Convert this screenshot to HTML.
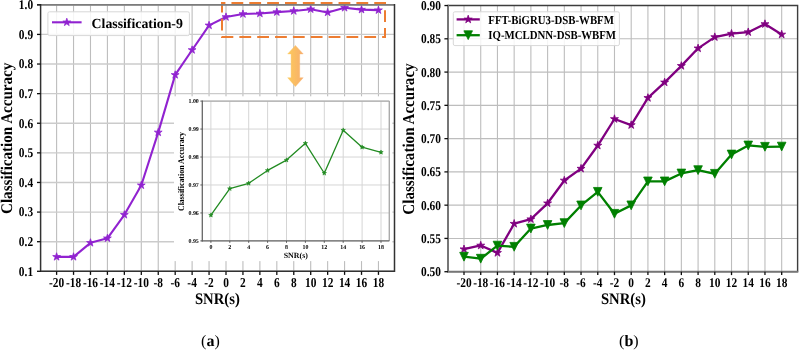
<!DOCTYPE html>
<html><head><meta charset="utf-8"><style>
html,body{margin:0;padding:0;background:#fff;}
body{width:799px;height:350px;overflow:hidden;}
svg{display:block;}
text{font-family:"Liberation Serif",serif;text-rendering:geometricPrecision;}
</style></head><body>
<div style="will-change:transform;width:799px;height:350px"><svg width="799" height="350" viewBox="0 0 799 350">
<defs><filter id="soft" filterUnits="userSpaceOnUse" x="0" y="0" width="799" height="350"><feGaussianBlur stdDeviation="0.35"/></filter></defs>
<rect width="799" height="350" fill="#fff"/>
<g filter="url(#soft)">
<line x1="56.60" y1="4.8" x2="56.60" y2="271.3" stroke="#bdbdbd" stroke-width="1.1"/>
<line x1="73.54" y1="4.8" x2="73.54" y2="271.3" stroke="#bdbdbd" stroke-width="1.1"/>
<line x1="90.48" y1="4.8" x2="90.48" y2="271.3" stroke="#bdbdbd" stroke-width="1.1"/>
<line x1="107.42" y1="4.8" x2="107.42" y2="271.3" stroke="#bdbdbd" stroke-width="1.1"/>
<line x1="124.36" y1="4.8" x2="124.36" y2="271.3" stroke="#bdbdbd" stroke-width="1.1"/>
<line x1="141.30" y1="4.8" x2="141.30" y2="271.3" stroke="#bdbdbd" stroke-width="1.1"/>
<line x1="158.24" y1="4.8" x2="158.24" y2="271.3" stroke="#bdbdbd" stroke-width="1.1"/>
<line x1="175.18" y1="4.8" x2="175.18" y2="271.3" stroke="#bdbdbd" stroke-width="1.1"/>
<line x1="192.12" y1="4.8" x2="192.12" y2="271.3" stroke="#bdbdbd" stroke-width="1.1"/>
<line x1="209.06" y1="4.8" x2="209.06" y2="271.3" stroke="#bdbdbd" stroke-width="1.1"/>
<line x1="226.00" y1="4.8" x2="226.00" y2="271.3" stroke="#bdbdbd" stroke-width="1.1"/>
<line x1="242.94" y1="4.8" x2="242.94" y2="271.3" stroke="#bdbdbd" stroke-width="1.1"/>
<line x1="259.88" y1="4.8" x2="259.88" y2="271.3" stroke="#bdbdbd" stroke-width="1.1"/>
<line x1="276.82" y1="4.8" x2="276.82" y2="271.3" stroke="#bdbdbd" stroke-width="1.1"/>
<line x1="293.76" y1="4.8" x2="293.76" y2="271.3" stroke="#bdbdbd" stroke-width="1.1"/>
<line x1="310.70" y1="4.8" x2="310.70" y2="271.3" stroke="#bdbdbd" stroke-width="1.1"/>
<line x1="327.64" y1="4.8" x2="327.64" y2="271.3" stroke="#bdbdbd" stroke-width="1.1"/>
<line x1="344.58" y1="4.8" x2="344.58" y2="271.3" stroke="#bdbdbd" stroke-width="1.1"/>
<line x1="361.52" y1="4.8" x2="361.52" y2="271.3" stroke="#bdbdbd" stroke-width="1.1"/>
<line x1="378.46" y1="4.8" x2="378.46" y2="271.3" stroke="#bdbdbd" stroke-width="1.1"/>
<line x1="40.6" y1="271.30" x2="394.5" y2="271.30" stroke="#cbcbcb" stroke-width="1.4"/>
<line x1="40.6" y1="241.69" x2="394.5" y2="241.69" stroke="#cbcbcb" stroke-width="1.4"/>
<line x1="40.6" y1="212.08" x2="394.5" y2="212.08" stroke="#cbcbcb" stroke-width="1.4"/>
<line x1="40.6" y1="182.47" x2="394.5" y2="182.47" stroke="#cbcbcb" stroke-width="1.4"/>
<line x1="40.6" y1="152.86" x2="394.5" y2="152.86" stroke="#cbcbcb" stroke-width="1.4"/>
<line x1="40.6" y1="123.25" x2="394.5" y2="123.25" stroke="#cbcbcb" stroke-width="1.4"/>
<line x1="40.6" y1="93.64" x2="394.5" y2="93.64" stroke="#cbcbcb" stroke-width="1.4"/>
<line x1="40.6" y1="64.03" x2="394.5" y2="64.03" stroke="#cbcbcb" stroke-width="1.4"/>
<line x1="40.6" y1="34.42" x2="394.5" y2="34.42" stroke="#cbcbcb" stroke-width="1.4"/>
<line x1="40.6" y1="4.81" x2="394.5" y2="4.81" stroke="#cbcbcb" stroke-width="1.4"/>
<polyline points="56.60,256.85 73.54,256.85 90.48,242.82 107.42,238.28 124.36,214.80 141.30,185.28 158.24,132.40 175.18,74.90 192.12,49.99 209.06,25.39 226.00,17.01 242.94,14.05 259.88,13.49 276.82,12.12 293.76,11.03 310.70,9.22 327.64,12.42 344.58,7.80 361.52,9.64 378.46,10.17" fill="none" stroke="#9124d0" stroke-width="2.1" stroke-linejoin="round"/>
<polygon points="56.60,252.75 57.52,255.58 60.50,255.58 58.09,257.33 59.01,260.17 56.60,258.42 54.19,260.17 55.11,257.33 52.70,255.58 55.68,255.58" fill="#9124d0" stroke="#9124d0" stroke-width="0.8" stroke-linejoin="miter"/>
<polygon points="73.54,252.75 74.46,255.58 77.44,255.58 75.03,257.33 75.95,260.17 73.54,258.42 71.13,260.17 72.05,257.33 69.64,255.58 72.62,255.58" fill="#9124d0" stroke="#9124d0" stroke-width="0.8" stroke-linejoin="miter"/>
<polygon points="90.48,238.72 91.40,241.55 94.38,241.55 91.97,243.30 92.89,246.13 90.48,244.38 88.07,246.13 88.99,243.30 86.58,241.55 89.56,241.55" fill="#9124d0" stroke="#9124d0" stroke-width="0.8" stroke-linejoin="miter"/>
<polygon points="107.42,234.18 108.34,237.02 111.32,237.02 108.91,238.77 109.83,241.60 107.42,239.85 105.01,241.60 105.93,238.77 103.52,237.02 106.50,237.02" fill="#9124d0" stroke="#9124d0" stroke-width="0.8" stroke-linejoin="miter"/>
<polygon points="124.36,210.70 125.28,213.54 128.26,213.54 125.85,215.29 126.77,218.12 124.36,216.37 121.95,218.12 122.87,215.29 120.46,213.54 123.44,213.54" fill="#9124d0" stroke="#9124d0" stroke-width="0.8" stroke-linejoin="miter"/>
<polygon points="141.30,181.18 142.22,184.02 145.20,184.02 142.79,185.77 143.71,188.60 141.30,186.85 138.89,188.60 139.81,185.77 137.40,184.02 140.38,184.02" fill="#9124d0" stroke="#9124d0" stroke-width="0.8" stroke-linejoin="miter"/>
<polygon points="158.24,128.30 159.16,131.13 162.14,131.13 159.73,132.88 160.65,135.72 158.24,133.97 155.83,135.72 156.75,132.88 154.34,131.13 157.32,131.13" fill="#9124d0" stroke="#9124d0" stroke-width="0.8" stroke-linejoin="miter"/>
<polygon points="175.18,70.80 176.10,73.63 179.08,73.63 176.67,75.38 177.59,78.21 175.18,76.46 172.77,78.21 173.69,75.38 171.28,73.63 174.26,73.63" fill="#9124d0" stroke="#9124d0" stroke-width="0.8" stroke-linejoin="miter"/>
<polygon points="192.12,45.89 193.04,48.73 196.02,48.73 193.61,50.48 194.53,53.31 192.12,51.56 189.71,53.31 190.63,50.48 188.22,48.73 191.20,48.73" fill="#9124d0" stroke="#9124d0" stroke-width="0.8" stroke-linejoin="miter"/>
<polygon points="209.06,21.29 209.98,24.12 212.96,24.12 210.55,25.87 211.47,28.71 209.06,26.96 206.65,28.71 207.57,25.87 205.16,24.12 208.14,24.12" fill="#9124d0" stroke="#9124d0" stroke-width="0.8" stroke-linejoin="miter"/>
<polygon points="226.00,12.91 226.92,15.74 229.90,15.74 227.49,17.49 228.41,20.33 226.00,18.58 223.59,20.33 224.51,17.49 222.10,15.74 225.08,15.74" fill="#9124d0" stroke="#9124d0" stroke-width="0.8" stroke-linejoin="miter"/>
<polygon points="242.94,9.95 243.86,12.78 246.84,12.78 244.43,14.53 245.35,17.37 242.94,15.61 240.53,17.37 241.45,14.53 239.04,12.78 242.02,12.78" fill="#9124d0" stroke="#9124d0" stroke-width="0.8" stroke-linejoin="miter"/>
<polygon points="259.88,9.39 260.80,12.22 263.78,12.22 261.37,13.97 262.29,16.80 259.88,15.05 257.47,16.80 258.39,13.97 255.98,12.22 258.96,12.22" fill="#9124d0" stroke="#9124d0" stroke-width="0.8" stroke-linejoin="miter"/>
<polygon points="276.82,8.02 277.74,10.86 280.72,10.86 278.31,12.61 279.23,15.44 276.82,13.69 274.41,15.44 275.33,12.61 272.92,10.86 275.90,10.86" fill="#9124d0" stroke="#9124d0" stroke-width="0.8" stroke-linejoin="miter"/>
<polygon points="293.76,6.93 294.68,9.76 297.66,9.76 295.25,11.51 296.17,14.35 293.76,12.59 291.35,14.35 292.27,11.51 289.86,9.76 292.84,9.76" fill="#9124d0" stroke="#9124d0" stroke-width="0.8" stroke-linejoin="miter"/>
<polygon points="310.70,5.12 311.62,7.95 314.60,7.95 312.19,9.71 313.11,12.54 310.70,10.79 308.29,12.54 309.21,9.71 306.80,7.95 309.78,7.95" fill="#9124d0" stroke="#9124d0" stroke-width="0.8" stroke-linejoin="miter"/>
<polygon points="327.64,8.32 328.56,11.15 331.54,11.15 329.13,12.90 330.05,15.74 327.64,13.99 325.23,15.74 326.15,12.90 323.74,11.15 326.72,11.15" fill="#9124d0" stroke="#9124d0" stroke-width="0.8" stroke-linejoin="miter"/>
<polygon points="344.58,3.70 345.50,6.53 348.48,6.53 346.07,8.28 346.99,11.12 344.58,9.37 342.17,11.12 343.09,8.28 340.68,6.53 343.66,6.53" fill="#9124d0" stroke="#9124d0" stroke-width="0.8" stroke-linejoin="miter"/>
<polygon points="361.52,5.54 362.44,8.37 365.42,8.37 363.01,10.12 363.93,12.95 361.52,11.20 359.11,12.95 360.03,10.12 357.62,8.37 360.60,8.37" fill="#9124d0" stroke="#9124d0" stroke-width="0.8" stroke-linejoin="miter"/>
<polygon points="378.46,6.07 379.38,8.90 382.36,8.90 379.95,10.65 380.87,13.49 378.46,11.74 376.05,13.49 376.97,10.65 374.56,8.90 377.54,8.90" fill="#9124d0" stroke="#9124d0" stroke-width="0.8" stroke-linejoin="miter"/>
<rect x="47.9" y="11.8" width="141.5" height="23.8" rx="1.6" fill="#ffffff" fill-opacity="0.85" stroke="#d8d8d8" stroke-width="1"/>
<line x1="52" y1="22.3" x2="81.6" y2="22.3" stroke="#9124d0" stroke-width="2.1"/>
<polygon points="66.80,18.20 67.72,21.03 70.70,21.03 68.29,22.78 69.21,25.62 66.80,23.87 64.39,25.62 65.31,22.78 62.90,21.03 65.88,21.03" fill="#9124d0" stroke="#9124d0" stroke-width="0.8" stroke-linejoin="miter"/>
<text x="91.6" y="27.8" font-family="Liberation Serif" font-weight="bold" font-size="13.8" fill="#000">Classification-9</text>
<rect x="174" y="96.3" width="218.3" height="164.8" fill="#fff"/>
<line x1="210.90" y1="101.1" x2="210.90" y2="240.9" stroke="#d5d5d5" stroke-width="1"/>
<line x1="229.80" y1="101.1" x2="229.80" y2="240.9" stroke="#d5d5d5" stroke-width="1"/>
<line x1="248.70" y1="101.1" x2="248.70" y2="240.9" stroke="#d5d5d5" stroke-width="1"/>
<line x1="267.60" y1="101.1" x2="267.60" y2="240.9" stroke="#d5d5d5" stroke-width="1"/>
<line x1="286.50" y1="101.1" x2="286.50" y2="240.9" stroke="#d5d5d5" stroke-width="1"/>
<line x1="305.40" y1="101.1" x2="305.40" y2="240.9" stroke="#d5d5d5" stroke-width="1"/>
<line x1="324.30" y1="101.1" x2="324.30" y2="240.9" stroke="#d5d5d5" stroke-width="1"/>
<line x1="343.20" y1="101.1" x2="343.20" y2="240.9" stroke="#d5d5d5" stroke-width="1"/>
<line x1="362.10" y1="101.1" x2="362.10" y2="240.9" stroke="#d5d5d5" stroke-width="1"/>
<line x1="381.00" y1="101.1" x2="381.00" y2="240.9" stroke="#d5d5d5" stroke-width="1"/>
<line x1="202.3" y1="240.90" x2="389.3" y2="240.90" stroke="#d5d5d5" stroke-width="1"/>
<line x1="202.3" y1="212.94" x2="389.3" y2="212.94" stroke="#d5d5d5" stroke-width="1"/>
<line x1="202.3" y1="184.98" x2="389.3" y2="184.98" stroke="#d5d5d5" stroke-width="1"/>
<line x1="202.3" y1="157.02" x2="389.3" y2="157.02" stroke="#d5d5d5" stroke-width="1"/>
<line x1="202.3" y1="129.06" x2="389.3" y2="129.06" stroke="#d5d5d5" stroke-width="1"/>
<line x1="202.3" y1="101.10" x2="389.3" y2="101.10" stroke="#d5d5d5" stroke-width="1"/>
<polyline points="210.90,215.18 229.80,188.61 248.70,183.30 267.60,170.44 286.50,160.10 305.40,143.32 324.30,173.24 343.20,130.18 362.10,147.23 381.00,152.27" fill="none" stroke="#228b22" stroke-width="1.3" stroke-linejoin="round"/>
<polygon points="210.90,212.88 211.42,214.47 213.09,214.47 211.74,215.45 212.25,217.04 210.90,216.06 209.55,217.04 210.06,215.45 208.71,214.47 210.38,214.47" fill="#228b22" stroke="#228b22" stroke-width="0.6" stroke-linejoin="miter"/>
<polygon points="229.80,186.31 230.32,187.90 231.99,187.90 230.64,188.89 231.15,190.48 229.80,189.49 228.45,190.48 228.96,188.89 227.61,187.90 229.28,187.90" fill="#228b22" stroke="#228b22" stroke-width="0.6" stroke-linejoin="miter"/>
<polygon points="248.70,181.00 249.22,182.59 250.89,182.59 249.54,183.57 250.05,185.16 248.70,184.18 247.35,185.16 247.86,183.57 246.51,182.59 248.18,182.59" fill="#228b22" stroke="#228b22" stroke-width="0.6" stroke-linejoin="miter"/>
<polygon points="267.60,168.14 268.12,169.73 269.79,169.73 268.44,170.71 268.95,172.30 267.60,171.32 266.25,172.30 266.76,170.71 265.41,169.73 267.08,169.73" fill="#228b22" stroke="#228b22" stroke-width="0.6" stroke-linejoin="miter"/>
<polygon points="286.50,157.80 287.02,159.38 288.69,159.38 287.34,160.37 287.85,161.96 286.50,160.97 285.15,161.96 285.66,160.37 284.31,159.38 285.98,159.38" fill="#228b22" stroke="#228b22" stroke-width="0.6" stroke-linejoin="miter"/>
<polygon points="305.40,141.02 305.92,142.61 307.59,142.61 306.24,143.59 306.75,145.18 305.40,144.20 304.05,145.18 304.56,143.59 303.21,142.61 304.88,142.61" fill="#228b22" stroke="#228b22" stroke-width="0.6" stroke-linejoin="miter"/>
<polygon points="324.30,170.94 324.82,172.53 326.49,172.53 325.14,173.51 325.65,175.10 324.30,174.12 322.95,175.10 323.46,173.51 322.11,172.53 323.78,172.53" fill="#228b22" stroke="#228b22" stroke-width="0.6" stroke-linejoin="miter"/>
<polygon points="343.20,127.88 343.72,129.47 345.39,129.47 344.04,130.45 344.55,132.04 343.20,131.06 341.85,132.04 342.36,130.45 341.01,129.47 342.68,129.47" fill="#228b22" stroke="#228b22" stroke-width="0.6" stroke-linejoin="miter"/>
<polygon points="362.10,144.93 362.62,146.52 364.29,146.52 362.94,147.51 363.45,149.09 362.10,148.11 360.75,149.09 361.26,147.51 359.91,146.52 361.58,146.52" fill="#228b22" stroke="#228b22" stroke-width="0.6" stroke-linejoin="miter"/>
<polygon points="381.00,149.97 381.52,151.56 383.19,151.56 381.84,152.54 382.35,154.13 381.00,153.15 379.65,154.13 380.16,152.54 378.81,151.56 380.48,151.56" fill="#228b22" stroke="#228b22" stroke-width="0.6" stroke-linejoin="miter"/>
<line x1="202.3" y1="101.1" x2="389.3" y2="101.1" stroke="#ababab" stroke-width="1.4"/>
<line x1="389.3" y1="101.1" x2="389.3" y2="240.9" stroke="#ababab" stroke-width="1.4"/>
<line x1="202.3" y1="100.5" x2="202.3" y2="241.5" stroke="#666" stroke-width="1.3"/>
<line x1="201.70000000000002" y1="240.9" x2="389.3" y2="240.9" stroke="#666" stroke-width="1.3"/>
<line x1="200.3" y1="240.90" x2="202.3" y2="240.90" stroke="#444" stroke-width="0.8"/>
<text x="198.8" y="243.00" font-family="Liberation Serif" font-weight="bold" font-size="5.9" text-anchor="end">0.95</text>
<line x1="200.3" y1="212.94" x2="202.3" y2="212.94" stroke="#444" stroke-width="0.8"/>
<text x="198.8" y="215.04" font-family="Liberation Serif" font-weight="bold" font-size="5.9" text-anchor="end">0.96</text>
<line x1="200.3" y1="184.98" x2="202.3" y2="184.98" stroke="#444" stroke-width="0.8"/>
<text x="198.8" y="187.08" font-family="Liberation Serif" font-weight="bold" font-size="5.9" text-anchor="end">0.97</text>
<line x1="200.3" y1="157.02" x2="202.3" y2="157.02" stroke="#444" stroke-width="0.8"/>
<text x="198.8" y="159.12" font-family="Liberation Serif" font-weight="bold" font-size="5.9" text-anchor="end">0.98</text>
<line x1="200.3" y1="129.06" x2="202.3" y2="129.06" stroke="#444" stroke-width="0.8"/>
<text x="198.8" y="131.16" font-family="Liberation Serif" font-weight="bold" font-size="5.9" text-anchor="end">0.99</text>
<line x1="200.3" y1="101.10" x2="202.3" y2="101.10" stroke="#444" stroke-width="0.8"/>
<text x="198.8" y="103.20" font-family="Liberation Serif" font-weight="bold" font-size="5.9" text-anchor="end">1.00</text>
<line x1="210.90" y1="240.9" x2="210.90" y2="242.9" stroke="#444" stroke-width="0.8"/>
<text x="210.90" y="249.10" font-family="Liberation Serif" font-weight="bold" font-size="5.9" text-anchor="middle">0</text>
<line x1="229.80" y1="240.9" x2="229.80" y2="242.9" stroke="#444" stroke-width="0.8"/>
<text x="229.80" y="249.10" font-family="Liberation Serif" font-weight="bold" font-size="5.9" text-anchor="middle">2</text>
<line x1="248.70" y1="240.9" x2="248.70" y2="242.9" stroke="#444" stroke-width="0.8"/>
<text x="248.70" y="249.10" font-family="Liberation Serif" font-weight="bold" font-size="5.9" text-anchor="middle">4</text>
<line x1="267.60" y1="240.9" x2="267.60" y2="242.9" stroke="#444" stroke-width="0.8"/>
<text x="267.60" y="249.10" font-family="Liberation Serif" font-weight="bold" font-size="5.9" text-anchor="middle">6</text>
<line x1="286.50" y1="240.9" x2="286.50" y2="242.9" stroke="#444" stroke-width="0.8"/>
<text x="286.50" y="249.10" font-family="Liberation Serif" font-weight="bold" font-size="5.9" text-anchor="middle">8</text>
<line x1="305.40" y1="240.9" x2="305.40" y2="242.9" stroke="#444" stroke-width="0.8"/>
<text x="305.40" y="249.10" font-family="Liberation Serif" font-weight="bold" font-size="5.9" text-anchor="middle">10</text>
<line x1="324.30" y1="240.9" x2="324.30" y2="242.9" stroke="#444" stroke-width="0.8"/>
<text x="324.30" y="249.10" font-family="Liberation Serif" font-weight="bold" font-size="5.9" text-anchor="middle">12</text>
<line x1="343.20" y1="240.9" x2="343.20" y2="242.9" stroke="#444" stroke-width="0.8"/>
<text x="343.20" y="249.10" font-family="Liberation Serif" font-weight="bold" font-size="5.9" text-anchor="middle">14</text>
<line x1="362.10" y1="240.9" x2="362.10" y2="242.9" stroke="#444" stroke-width="0.8"/>
<text x="362.10" y="249.10" font-family="Liberation Serif" font-weight="bold" font-size="5.9" text-anchor="middle">16</text>
<line x1="381.00" y1="240.9" x2="381.00" y2="242.9" stroke="#444" stroke-width="0.8"/>
<text x="381.00" y="249.10" font-family="Liberation Serif" font-weight="bold" font-size="5.9" text-anchor="middle">18</text>
<text x="295.80" y="258" font-family="Liberation Serif" font-weight="bold" font-size="7.9" text-anchor="middle">SNR(s)</text>
<text transform="translate(184.2,171.50) rotate(-90) scale(1,1.1)" font-family="Liberation Serif" font-weight="bold" font-size="7.9" text-anchor="middle">Classification Accuracy</text>
<path d="M222,3.1 H385 V37 H222 Z" fill="none" stroke="#ed7d31" stroke-width="2" stroke-dasharray="11.8 6.05" stroke-dashoffset="8.4"/>
<defs><linearGradient id="ag" x1="0" y1="0" x2="1" y2="0"><stop offset="0" stop-color="#fdca5c"/><stop offset="1" stop-color="#f7ad6c"/></linearGradient></defs>
<path d="M295.4,45.4 L303.2,53.9 L299.7,53.9 L299.7,77.7 L303.2,77.7 L295.4,86.6 L287.7,77.7 L291.1,77.7 L291.1,53.9 L287.7,53.9 Z" fill="url(#ag)" stroke="url(#ag)" stroke-width="0.4" stroke-linejoin="round"/>
<line x1="37.0" y1="4.8" x2="394.5" y2="4.8" stroke="#7c7c7c" stroke-width="1.8"/>
<path d="M40.6,4.0 V271.3 H394.5 V4.0" fill="none" stroke="#333" stroke-width="1.5"/>
<line x1="56.60" y1="271.3" x2="56.60" y2="274.90000000000003" stroke="#111" stroke-width="1.3"/>
<text transform="matrix(1,0,0,1.2,0,-56.480)" x="56.60" y="286.25" font-family="Liberation Serif" font-weight="bold" font-size="11.4" text-anchor="middle" >-20</text>
<line x1="73.54" y1="271.3" x2="73.54" y2="274.90000000000003" stroke="#111" stroke-width="1.3"/>
<text transform="matrix(1,0,0,1.2,0,-56.480)" x="73.54" y="286.25" font-family="Liberation Serif" font-weight="bold" font-size="11.4" text-anchor="middle" >-18</text>
<line x1="90.48" y1="271.3" x2="90.48" y2="274.90000000000003" stroke="#111" stroke-width="1.3"/>
<text transform="matrix(1,0,0,1.2,0,-56.480)" x="90.48" y="286.25" font-family="Liberation Serif" font-weight="bold" font-size="11.4" text-anchor="middle" >-16</text>
<line x1="107.42" y1="271.3" x2="107.42" y2="274.90000000000003" stroke="#111" stroke-width="1.3"/>
<text transform="matrix(1,0,0,1.2,0,-56.480)" x="107.42" y="286.25" font-family="Liberation Serif" font-weight="bold" font-size="11.4" text-anchor="middle" >-14</text>
<line x1="124.36" y1="271.3" x2="124.36" y2="274.90000000000003" stroke="#111" stroke-width="1.3"/>
<text transform="matrix(1,0,0,1.2,0,-56.480)" x="124.36" y="286.25" font-family="Liberation Serif" font-weight="bold" font-size="11.4" text-anchor="middle" >-12</text>
<line x1="141.30" y1="271.3" x2="141.30" y2="274.90000000000003" stroke="#111" stroke-width="1.3"/>
<text transform="matrix(1,0,0,1.2,0,-56.480)" x="141.30" y="286.25" font-family="Liberation Serif" font-weight="bold" font-size="11.4" text-anchor="middle" >-10</text>
<line x1="158.24" y1="271.3" x2="158.24" y2="274.90000000000003" stroke="#111" stroke-width="1.3"/>
<text transform="matrix(1,0,0,1.2,0,-56.480)" x="158.24" y="286.25" font-family="Liberation Serif" font-weight="bold" font-size="11.4" text-anchor="middle" >-8</text>
<line x1="175.18" y1="271.3" x2="175.18" y2="274.90000000000003" stroke="#111" stroke-width="1.3"/>
<text transform="matrix(1,0,0,1.2,0,-56.480)" x="175.18" y="286.25" font-family="Liberation Serif" font-weight="bold" font-size="11.4" text-anchor="middle" >-6</text>
<line x1="192.12" y1="271.3" x2="192.12" y2="274.90000000000003" stroke="#111" stroke-width="1.3"/>
<text transform="matrix(1,0,0,1.2,0,-56.480)" x="192.12" y="286.25" font-family="Liberation Serif" font-weight="bold" font-size="11.4" text-anchor="middle" >-4</text>
<line x1="209.06" y1="271.3" x2="209.06" y2="274.90000000000003" stroke="#111" stroke-width="1.3"/>
<text transform="matrix(1,0,0,1.2,0,-56.480)" x="209.06" y="286.25" font-family="Liberation Serif" font-weight="bold" font-size="11.4" text-anchor="middle" >-2</text>
<line x1="226.00" y1="271.3" x2="226.00" y2="274.90000000000003" stroke="#111" stroke-width="1.3"/>
<text transform="matrix(1,0,0,1.2,0,-56.480)" x="226.00" y="286.25" font-family="Liberation Serif" font-weight="bold" font-size="11.4" text-anchor="middle" >0</text>
<line x1="242.94" y1="271.3" x2="242.94" y2="274.90000000000003" stroke="#111" stroke-width="1.3"/>
<text transform="matrix(1,0,0,1.2,0,-56.480)" x="242.94" y="286.25" font-family="Liberation Serif" font-weight="bold" font-size="11.4" text-anchor="middle" >2</text>
<line x1="259.88" y1="271.3" x2="259.88" y2="274.90000000000003" stroke="#111" stroke-width="1.3"/>
<text transform="matrix(1,0,0,1.2,0,-56.480)" x="259.88" y="286.25" font-family="Liberation Serif" font-weight="bold" font-size="11.4" text-anchor="middle" >4</text>
<line x1="276.82" y1="271.3" x2="276.82" y2="274.90000000000003" stroke="#111" stroke-width="1.3"/>
<text transform="matrix(1,0,0,1.2,0,-56.480)" x="276.82" y="286.25" font-family="Liberation Serif" font-weight="bold" font-size="11.4" text-anchor="middle" >6</text>
<line x1="293.76" y1="271.3" x2="293.76" y2="274.90000000000003" stroke="#111" stroke-width="1.3"/>
<text transform="matrix(1,0,0,1.2,0,-56.480)" x="293.76" y="286.25" font-family="Liberation Serif" font-weight="bold" font-size="11.4" text-anchor="middle" >8</text>
<line x1="310.70" y1="271.3" x2="310.70" y2="274.90000000000003" stroke="#111" stroke-width="1.3"/>
<text transform="matrix(1,0,0,1.2,0,-56.480)" x="310.70" y="286.25" font-family="Liberation Serif" font-weight="bold" font-size="11.4" text-anchor="middle" >10</text>
<line x1="327.64" y1="271.3" x2="327.64" y2="274.90000000000003" stroke="#111" stroke-width="1.3"/>
<text transform="matrix(1,0,0,1.2,0,-56.480)" x="327.64" y="286.25" font-family="Liberation Serif" font-weight="bold" font-size="11.4" text-anchor="middle" >12</text>
<line x1="344.58" y1="271.3" x2="344.58" y2="274.90000000000003" stroke="#111" stroke-width="1.3"/>
<text transform="matrix(1,0,0,1.2,0,-56.480)" x="344.58" y="286.25" font-family="Liberation Serif" font-weight="bold" font-size="11.4" text-anchor="middle" >14</text>
<line x1="361.52" y1="271.3" x2="361.52" y2="274.90000000000003" stroke="#111" stroke-width="1.3"/>
<text transform="matrix(1,0,0,1.2,0,-56.480)" x="361.52" y="286.25" font-family="Liberation Serif" font-weight="bold" font-size="11.4" text-anchor="middle" >16</text>
<line x1="378.46" y1="271.3" x2="378.46" y2="274.90000000000003" stroke="#111" stroke-width="1.3"/>
<text transform="matrix(1,0,0,1.2,0,-56.480)" x="378.46" y="286.25" font-family="Liberation Serif" font-weight="bold" font-size="11.4" text-anchor="middle" >18</text>
<line x1="37.0" y1="271.30" x2="40.6" y2="271.30" stroke="#111" stroke-width="1.3"/>
<text transform="matrix(1,0,0,1.18,0,-48.807)" x="33.10" y="275.00" font-family="Liberation Serif" font-weight="bold" font-size="11.4" text-anchor="end" >0.1</text>
<line x1="37.0" y1="241.69" x2="40.6" y2="241.69" stroke="#111" stroke-width="1.3"/>
<text transform="matrix(1,0,0,1.18,0,-43.477)" x="33.10" y="245.39" font-family="Liberation Serif" font-weight="bold" font-size="11.4" text-anchor="end" >0.2</text>
<line x1="37.0" y1="212.08" x2="40.6" y2="212.08" stroke="#111" stroke-width="1.3"/>
<text transform="matrix(1,0,0,1.18,0,-38.147)" x="33.10" y="215.78" font-family="Liberation Serif" font-weight="bold" font-size="11.4" text-anchor="end" >0.3</text>
<line x1="37.0" y1="182.47" x2="40.6" y2="182.47" stroke="#111" stroke-width="1.3"/>
<text transform="matrix(1,0,0,1.18,0,-32.818)" x="33.10" y="186.17" font-family="Liberation Serif" font-weight="bold" font-size="11.4" text-anchor="end" >0.4</text>
<line x1="37.0" y1="152.86" x2="40.6" y2="152.86" stroke="#111" stroke-width="1.3"/>
<text transform="matrix(1,0,0,1.18,0,-27.488)" x="33.10" y="156.56" font-family="Liberation Serif" font-weight="bold" font-size="11.4" text-anchor="end" >0.5</text>
<line x1="37.0" y1="123.25" x2="40.6" y2="123.25" stroke="#111" stroke-width="1.3"/>
<text transform="matrix(1,0,0,1.18,0,-22.158)" x="33.10" y="126.95" font-family="Liberation Serif" font-weight="bold" font-size="11.4" text-anchor="end" >0.6</text>
<line x1="37.0" y1="93.64" x2="40.6" y2="93.64" stroke="#111" stroke-width="1.3"/>
<text transform="matrix(1,0,0,1.18,0,-16.828)" x="33.10" y="97.34" font-family="Liberation Serif" font-weight="bold" font-size="11.4" text-anchor="end" >0.7</text>
<line x1="37.0" y1="64.03" x2="40.6" y2="64.03" stroke="#111" stroke-width="1.3"/>
<text transform="matrix(1,0,0,1.18,0,-11.498)" x="33.10" y="67.73" font-family="Liberation Serif" font-weight="bold" font-size="11.4" text-anchor="end" >0.8</text>
<line x1="37.0" y1="34.42" x2="40.6" y2="34.42" stroke="#111" stroke-width="1.3"/>
<text transform="matrix(1,0,0,1.18,0,-6.169)" x="33.10" y="38.12" font-family="Liberation Serif" font-weight="bold" font-size="11.4" text-anchor="end" >0.9</text>
<line x1="37.0" y1="4.81" x2="40.6" y2="4.81" stroke="#111" stroke-width="1.3"/>
<text transform="matrix(1,0,0,1.18,0,-0.839)" x="33.10" y="8.51" font-family="Liberation Serif" font-weight="bold" font-size="11.4" text-anchor="end" >1.0</text>
<text transform="matrix(1,0,0,1.1,0,-29.850)" x="217.4" y="303.2" font-family="Liberation Serif" font-weight="bold" font-size="14.7" text-anchor="middle">SNR(s)</text>
<text transform="translate(11.9,138.3) rotate(-90) scale(1,1.08)" font-family="Liberation Serif" font-weight="bold" font-size="15.1" text-anchor="middle">Classification Accuracy</text>
<text x="210.4" y="345.5" font-family="Liberation Serif" font-size="16" text-anchor="middle">(<tspan font-weight="bold">a</tspan>)</text>
<line x1="464.00" y1="5.5" x2="464.00" y2="271.7" stroke="#bdbdbd" stroke-width="1.1"/>
<line x1="480.72" y1="5.5" x2="480.72" y2="271.7" stroke="#bdbdbd" stroke-width="1.1"/>
<line x1="497.44" y1="5.5" x2="497.44" y2="271.7" stroke="#bdbdbd" stroke-width="1.1"/>
<line x1="514.16" y1="5.5" x2="514.16" y2="271.7" stroke="#bdbdbd" stroke-width="1.1"/>
<line x1="530.88" y1="5.5" x2="530.88" y2="271.7" stroke="#bdbdbd" stroke-width="1.1"/>
<line x1="547.60" y1="5.5" x2="547.60" y2="271.7" stroke="#bdbdbd" stroke-width="1.1"/>
<line x1="564.32" y1="5.5" x2="564.32" y2="271.7" stroke="#bdbdbd" stroke-width="1.1"/>
<line x1="581.04" y1="5.5" x2="581.04" y2="271.7" stroke="#bdbdbd" stroke-width="1.1"/>
<line x1="597.76" y1="5.5" x2="597.76" y2="271.7" stroke="#bdbdbd" stroke-width="1.1"/>
<line x1="614.48" y1="5.5" x2="614.48" y2="271.7" stroke="#bdbdbd" stroke-width="1.1"/>
<line x1="631.20" y1="5.5" x2="631.20" y2="271.7" stroke="#bdbdbd" stroke-width="1.1"/>
<line x1="647.92" y1="5.5" x2="647.92" y2="271.7" stroke="#bdbdbd" stroke-width="1.1"/>
<line x1="664.64" y1="5.5" x2="664.64" y2="271.7" stroke="#bdbdbd" stroke-width="1.1"/>
<line x1="681.36" y1="5.5" x2="681.36" y2="271.7" stroke="#bdbdbd" stroke-width="1.1"/>
<line x1="698.08" y1="5.5" x2="698.08" y2="271.7" stroke="#bdbdbd" stroke-width="1.1"/>
<line x1="714.80" y1="5.5" x2="714.80" y2="271.7" stroke="#bdbdbd" stroke-width="1.1"/>
<line x1="731.52" y1="5.5" x2="731.52" y2="271.7" stroke="#bdbdbd" stroke-width="1.1"/>
<line x1="748.24" y1="5.5" x2="748.24" y2="271.7" stroke="#bdbdbd" stroke-width="1.1"/>
<line x1="764.96" y1="5.5" x2="764.96" y2="271.7" stroke="#bdbdbd" stroke-width="1.1"/>
<line x1="781.68" y1="5.5" x2="781.68" y2="271.7" stroke="#bdbdbd" stroke-width="1.1"/>
<line x1="448.0" y1="271.70" x2="797.6" y2="271.70" stroke="#bdbdbd" stroke-width="1.1"/>
<line x1="448.0" y1="238.43" x2="797.6" y2="238.43" stroke="#bdbdbd" stroke-width="1.1"/>
<line x1="448.0" y1="205.16" x2="797.6" y2="205.16" stroke="#bdbdbd" stroke-width="1.1"/>
<line x1="448.0" y1="171.89" x2="797.6" y2="171.89" stroke="#bdbdbd" stroke-width="1.1"/>
<line x1="448.0" y1="138.62" x2="797.6" y2="138.62" stroke="#bdbdbd" stroke-width="1.1"/>
<line x1="448.0" y1="105.35" x2="797.6" y2="105.35" stroke="#bdbdbd" stroke-width="1.1"/>
<line x1="448.0" y1="72.08" x2="797.6" y2="72.08" stroke="#bdbdbd" stroke-width="1.1"/>
<line x1="448.0" y1="38.81" x2="797.6" y2="38.81" stroke="#bdbdbd" stroke-width="1.1"/>
<line x1="448.0" y1="5.54" x2="797.6" y2="5.54" stroke="#bdbdbd" stroke-width="1.1"/>
<polyline points="464.00,249.21 480.72,245.48 497.44,252.87 514.16,223.72 530.88,219.20 547.60,203.30 564.32,180.47 581.04,168.63 597.76,145.54 614.48,118.99 631.20,125.05 647.92,97.90 664.64,82.39 681.36,65.89 698.08,48.33 714.80,37.08 731.52,33.69 748.24,32.16 764.96,24.04 781.68,34.48" fill="none" stroke="#800080" stroke-width="2.3" stroke-linejoin="round"/>
<polygon points="464.00,245.01 464.94,247.91 467.99,247.91 465.53,249.71 466.47,252.61 464.00,250.81 461.53,252.61 462.47,249.71 460.01,247.91 463.06,247.91" fill="#800080" stroke="#800080" stroke-width="0.8" stroke-linejoin="miter"/>
<polygon points="480.72,241.28 481.66,244.19 484.71,244.19 482.25,245.98 483.19,248.88 480.72,247.09 478.25,248.88 479.19,245.98 476.73,244.19 479.78,244.19" fill="#800080" stroke="#800080" stroke-width="0.8" stroke-linejoin="miter"/>
<polygon points="497.44,248.67 498.38,251.57 501.43,251.57 498.97,253.36 499.91,256.27 497.44,254.47 494.97,256.27 495.91,253.36 493.45,251.57 496.50,251.57" fill="#800080" stroke="#800080" stroke-width="0.8" stroke-linejoin="miter"/>
<polygon points="514.16,219.52 515.10,222.43 518.15,222.43 515.69,224.22 516.63,227.12 514.16,225.33 511.69,227.12 512.63,224.22 510.17,222.43 513.22,222.43" fill="#800080" stroke="#800080" stroke-width="0.8" stroke-linejoin="miter"/>
<polygon points="530.88,215.00 531.82,217.90 534.87,217.90 532.41,219.70 533.35,222.60 530.88,220.80 528.41,222.60 529.35,219.70 526.89,217.90 529.94,217.90" fill="#800080" stroke="#800080" stroke-width="0.8" stroke-linejoin="miter"/>
<polygon points="547.60,199.10 548.54,202.00 551.59,202.00 549.13,203.79 550.07,206.69 547.60,204.90 545.13,206.69 546.07,203.79 543.61,202.00 546.66,202.00" fill="#800080" stroke="#800080" stroke-width="0.8" stroke-linejoin="miter"/>
<polygon points="564.32,176.27 565.26,179.18 568.31,179.18 565.85,180.97 566.79,183.87 564.32,182.08 561.85,183.87 562.79,180.97 560.33,179.18 563.38,179.18" fill="#800080" stroke="#800080" stroke-width="0.8" stroke-linejoin="miter"/>
<polygon points="581.04,164.43 581.98,167.33 585.03,167.33 582.57,169.13 583.51,172.03 581.04,170.23 578.57,172.03 579.51,169.13 577.05,167.33 580.10,167.33" fill="#800080" stroke="#800080" stroke-width="0.8" stroke-linejoin="miter"/>
<polygon points="597.76,141.34 598.70,144.24 601.75,144.24 599.29,146.04 600.23,148.94 597.76,147.14 595.29,148.94 596.23,146.04 593.77,144.24 596.82,144.24" fill="#800080" stroke="#800080" stroke-width="0.8" stroke-linejoin="miter"/>
<polygon points="614.48,114.79 615.42,117.69 618.47,117.69 616.01,119.49 616.95,122.39 614.48,120.59 612.01,122.39 612.95,119.49 610.49,117.69 613.54,117.69" fill="#800080" stroke="#800080" stroke-width="0.8" stroke-linejoin="miter"/>
<polygon points="631.20,120.85 632.14,123.75 635.19,123.75 632.73,125.54 633.67,128.44 631.20,126.65 628.73,128.44 629.67,125.54 627.21,123.75 630.26,123.75" fill="#800080" stroke="#800080" stroke-width="0.8" stroke-linejoin="miter"/>
<polygon points="647.92,93.70 648.86,96.60 651.91,96.60 649.45,98.39 650.39,101.30 647.92,99.50 645.45,101.30 646.39,98.39 643.93,96.60 646.98,96.60" fill="#800080" stroke="#800080" stroke-width="0.8" stroke-linejoin="miter"/>
<polygon points="664.64,78.19 665.58,81.10 668.63,81.10 666.17,82.89 667.11,85.79 664.64,84.00 662.17,85.79 663.11,82.89 660.65,81.10 663.70,81.10" fill="#800080" stroke="#800080" stroke-width="0.8" stroke-linejoin="miter"/>
<polygon points="681.36,61.69 682.30,64.59 685.35,64.59 682.89,66.39 683.83,69.29 681.36,67.50 678.89,69.29 679.83,66.39 677.37,64.59 680.42,64.59" fill="#800080" stroke="#800080" stroke-width="0.8" stroke-linejoin="miter"/>
<polygon points="698.08,44.13 699.02,47.03 702.07,47.03 699.61,48.82 700.55,51.72 698.08,49.93 695.61,51.72 696.55,48.82 694.09,47.03 697.14,47.03" fill="#800080" stroke="#800080" stroke-width="0.8" stroke-linejoin="miter"/>
<polygon points="714.80,32.88 715.74,35.78 718.79,35.78 716.33,37.58 717.27,40.48 714.80,38.68 712.33,40.48 713.27,37.58 710.81,35.78 713.86,35.78" fill="#800080" stroke="#800080" stroke-width="0.8" stroke-linejoin="miter"/>
<polygon points="731.52,29.49 732.46,32.39 735.51,32.39 733.05,34.18 733.99,37.08 731.52,35.29 729.05,37.08 729.99,34.18 727.53,32.39 730.58,32.39" fill="#800080" stroke="#800080" stroke-width="0.8" stroke-linejoin="miter"/>
<polygon points="748.24,27.96 749.18,30.86 752.23,30.86 749.77,32.65 750.71,35.55 748.24,33.76 745.77,35.55 746.71,32.65 744.25,30.86 747.30,30.86" fill="#800080" stroke="#800080" stroke-width="0.8" stroke-linejoin="miter"/>
<polygon points="764.96,19.84 765.90,22.74 768.95,22.74 766.49,24.53 767.43,27.44 764.96,25.64 762.49,27.44 763.43,24.53 760.97,22.74 764.02,22.74" fill="#800080" stroke="#800080" stroke-width="0.8" stroke-linejoin="miter"/>
<polygon points="781.68,30.28 782.62,33.19 785.67,33.19 783.21,34.98 784.15,37.88 781.68,36.09 779.21,37.88 780.15,34.98 777.69,33.19 780.74,33.19" fill="#800080" stroke="#800080" stroke-width="0.8" stroke-linejoin="miter"/>
<polyline points="464.00,256.73 480.72,258.72 497.44,245.62 514.16,246.81 530.88,228.52 547.60,224.99 564.32,223.13 581.04,205.43 597.76,191.85 614.48,213.81 631.20,205.36 647.92,181.41 664.64,181.41 681.36,173.49 698.08,170.16 714.80,173.82 731.52,154.52 748.24,145.47 764.96,146.80 781.68,146.60" fill="none" stroke="#008000" stroke-width="2.3" stroke-linejoin="round"/>
<polygon points="459.70,252.33 468.30,252.33 464.00,261.13" fill="#008000" stroke="#008000" stroke-width="0.8"/>
<polygon points="476.42,254.32 485.02,254.32 480.72,263.12" fill="#008000" stroke="#008000" stroke-width="0.8"/>
<polygon points="493.14,241.22 501.74,241.22 497.44,250.02" fill="#008000" stroke="#008000" stroke-width="0.8"/>
<polygon points="509.86,242.41 518.46,242.41 514.16,251.21" fill="#008000" stroke="#008000" stroke-width="0.8"/>
<polygon points="526.58,224.12 535.18,224.12 530.88,232.92" fill="#008000" stroke="#008000" stroke-width="0.8"/>
<polygon points="543.30,220.59 551.90,220.59 547.60,229.39" fill="#008000" stroke="#008000" stroke-width="0.8"/>
<polygon points="560.02,218.73 568.62,218.73 564.32,227.53" fill="#008000" stroke="#008000" stroke-width="0.8"/>
<polygon points="576.74,201.03 585.34,201.03 581.04,209.83" fill="#008000" stroke="#008000" stroke-width="0.8"/>
<polygon points="593.46,187.45 602.06,187.45 597.76,196.25" fill="#008000" stroke="#008000" stroke-width="0.8"/>
<polygon points="610.18,209.41 618.78,209.41 614.48,218.21" fill="#008000" stroke="#008000" stroke-width="0.8"/>
<polygon points="626.90,200.96 635.50,200.96 631.20,209.76" fill="#008000" stroke="#008000" stroke-width="0.8"/>
<polygon points="643.62,177.01 652.22,177.01 647.92,185.81" fill="#008000" stroke="#008000" stroke-width="0.8"/>
<polygon points="660.34,177.01 668.94,177.01 664.64,185.81" fill="#008000" stroke="#008000" stroke-width="0.8"/>
<polygon points="677.06,169.09 685.66,169.09 681.36,177.89" fill="#008000" stroke="#008000" stroke-width="0.8"/>
<polygon points="693.78,165.76 702.38,165.76 698.08,174.56" fill="#008000" stroke="#008000" stroke-width="0.8"/>
<polygon points="710.50,169.42 719.10,169.42 714.80,178.22" fill="#008000" stroke="#008000" stroke-width="0.8"/>
<polygon points="727.22,150.12 735.82,150.12 731.52,158.92" fill="#008000" stroke="#008000" stroke-width="0.8"/>
<polygon points="743.94,141.07 752.54,141.07 748.24,149.87" fill="#008000" stroke="#008000" stroke-width="0.8"/>
<polygon points="760.66,142.40 769.26,142.40 764.96,151.20" fill="#008000" stroke="#008000" stroke-width="0.8"/>
<polygon points="777.38,142.20 785.98,142.20 781.68,151.00" fill="#008000" stroke="#008000" stroke-width="0.8"/>
<rect x="453.3" y="11.8" width="166.1" height="33.8" rx="1.6" fill="#ffffff" fill-opacity="0.85" stroke="#d8d8d8" stroke-width="1"/>
<line x1="456.6" y1="19.4" x2="479.8" y2="19.4" stroke="#800080" stroke-width="2.3"/>
<polygon points="468.20,15.20 469.14,18.10 472.19,18.10 469.73,19.90 470.67,22.80 468.20,21.00 465.73,22.80 466.67,19.90 464.21,18.10 467.26,18.10" fill="#800080" stroke="#800080" stroke-width="0.8" stroke-linejoin="miter"/>
<line x1="456.6" y1="35.2" x2="479.8" y2="35.2" stroke="#008000" stroke-width="2.3"/>
<polygon points="463.90,30.80 472.50,30.80 468.20,39.60" fill="#008000" stroke="#008000" stroke-width="0.8"/>
<text transform="matrix(1,0,0,1.12,0,-2.388)" x="488.3" y="23.5" font-family="Liberation Serif" font-weight="bold" font-size="10.8">FFT-BiGRU3-DSB-WBFM</text>
<text transform="matrix(1,0,0,1.12,0,-4.200)" x="488.3" y="38.8" font-family="Liberation Serif" font-weight="bold" font-size="10.8">IQ-MCLDNN-DSB-WBFM</text>
<path d="M448.0,5.5 H797.6 V271.7" fill="none" stroke="#3c3c3c" stroke-width="1.4"/>
<path d="M448.0,4.8 V271.7 H798.3000000000001" fill="none" stroke="#767676" stroke-width="2"/>
<line x1="464.00" y1="271.7" x2="464.00" y2="275.09999999999997" stroke="#111" stroke-width="1.3"/>
<text transform="matrix(1,0,0,1.17,0,-48.076)" x="464.00" y="286.65" font-family="Liberation Serif" font-weight="bold" font-size="11.4" text-anchor="middle" >-20</text>
<line x1="480.72" y1="271.7" x2="480.72" y2="275.09999999999997" stroke="#111" stroke-width="1.3"/>
<text transform="matrix(1,0,0,1.17,0,-48.076)" x="480.72" y="286.65" font-family="Liberation Serif" font-weight="bold" font-size="11.4" text-anchor="middle" >-18</text>
<line x1="497.44" y1="271.7" x2="497.44" y2="275.09999999999997" stroke="#111" stroke-width="1.3"/>
<text transform="matrix(1,0,0,1.17,0,-48.076)" x="497.44" y="286.65" font-family="Liberation Serif" font-weight="bold" font-size="11.4" text-anchor="middle" >-16</text>
<line x1="514.16" y1="271.7" x2="514.16" y2="275.09999999999997" stroke="#111" stroke-width="1.3"/>
<text transform="matrix(1,0,0,1.17,0,-48.076)" x="514.16" y="286.65" font-family="Liberation Serif" font-weight="bold" font-size="11.4" text-anchor="middle" >-14</text>
<line x1="530.88" y1="271.7" x2="530.88" y2="275.09999999999997" stroke="#111" stroke-width="1.3"/>
<text transform="matrix(1,0,0,1.17,0,-48.076)" x="530.88" y="286.65" font-family="Liberation Serif" font-weight="bold" font-size="11.4" text-anchor="middle" >-12</text>
<line x1="547.60" y1="271.7" x2="547.60" y2="275.09999999999997" stroke="#111" stroke-width="1.3"/>
<text transform="matrix(1,0,0,1.17,0,-48.076)" x="547.60" y="286.65" font-family="Liberation Serif" font-weight="bold" font-size="11.4" text-anchor="middle" >-10</text>
<line x1="564.32" y1="271.7" x2="564.32" y2="275.09999999999997" stroke="#111" stroke-width="1.3"/>
<text transform="matrix(1,0,0,1.17,0,-48.076)" x="564.32" y="286.65" font-family="Liberation Serif" font-weight="bold" font-size="11.4" text-anchor="middle" >-8</text>
<line x1="581.04" y1="271.7" x2="581.04" y2="275.09999999999997" stroke="#111" stroke-width="1.3"/>
<text transform="matrix(1,0,0,1.17,0,-48.076)" x="581.04" y="286.65" font-family="Liberation Serif" font-weight="bold" font-size="11.4" text-anchor="middle" >-6</text>
<line x1="597.76" y1="271.7" x2="597.76" y2="275.09999999999997" stroke="#111" stroke-width="1.3"/>
<text transform="matrix(1,0,0,1.17,0,-48.076)" x="597.76" y="286.65" font-family="Liberation Serif" font-weight="bold" font-size="11.4" text-anchor="middle" >-4</text>
<line x1="614.48" y1="271.7" x2="614.48" y2="275.09999999999997" stroke="#111" stroke-width="1.3"/>
<text transform="matrix(1,0,0,1.17,0,-48.076)" x="614.48" y="286.65" font-family="Liberation Serif" font-weight="bold" font-size="11.4" text-anchor="middle" >-2</text>
<line x1="631.20" y1="271.7" x2="631.20" y2="275.09999999999997" stroke="#111" stroke-width="1.3"/>
<text transform="matrix(1,0,0,1.17,0,-48.076)" x="631.20" y="286.65" font-family="Liberation Serif" font-weight="bold" font-size="11.4" text-anchor="middle" >0</text>
<line x1="647.92" y1="271.7" x2="647.92" y2="275.09999999999997" stroke="#111" stroke-width="1.3"/>
<text transform="matrix(1,0,0,1.17,0,-48.076)" x="647.92" y="286.65" font-family="Liberation Serif" font-weight="bold" font-size="11.4" text-anchor="middle" >2</text>
<line x1="664.64" y1="271.7" x2="664.64" y2="275.09999999999997" stroke="#111" stroke-width="1.3"/>
<text transform="matrix(1,0,0,1.17,0,-48.076)" x="664.64" y="286.65" font-family="Liberation Serif" font-weight="bold" font-size="11.4" text-anchor="middle" >4</text>
<line x1="681.36" y1="271.7" x2="681.36" y2="275.09999999999997" stroke="#111" stroke-width="1.3"/>
<text transform="matrix(1,0,0,1.17,0,-48.076)" x="681.36" y="286.65" font-family="Liberation Serif" font-weight="bold" font-size="11.4" text-anchor="middle" >6</text>
<line x1="698.08" y1="271.7" x2="698.08" y2="275.09999999999997" stroke="#111" stroke-width="1.3"/>
<text transform="matrix(1,0,0,1.17,0,-48.076)" x="698.08" y="286.65" font-family="Liberation Serif" font-weight="bold" font-size="11.4" text-anchor="middle" >8</text>
<line x1="714.80" y1="271.7" x2="714.80" y2="275.09999999999997" stroke="#111" stroke-width="1.3"/>
<text transform="matrix(1,0,0,1.17,0,-48.076)" x="714.80" y="286.65" font-family="Liberation Serif" font-weight="bold" font-size="11.4" text-anchor="middle" >10</text>
<line x1="731.52" y1="271.7" x2="731.52" y2="275.09999999999997" stroke="#111" stroke-width="1.3"/>
<text transform="matrix(1,0,0,1.17,0,-48.076)" x="731.52" y="286.65" font-family="Liberation Serif" font-weight="bold" font-size="11.4" text-anchor="middle" >12</text>
<line x1="748.24" y1="271.7" x2="748.24" y2="275.09999999999997" stroke="#111" stroke-width="1.3"/>
<text transform="matrix(1,0,0,1.17,0,-48.076)" x="748.24" y="286.65" font-family="Liberation Serif" font-weight="bold" font-size="11.4" text-anchor="middle" >14</text>
<line x1="764.96" y1="271.7" x2="764.96" y2="275.09999999999997" stroke="#111" stroke-width="1.3"/>
<text transform="matrix(1,0,0,1.17,0,-48.076)" x="764.96" y="286.65" font-family="Liberation Serif" font-weight="bold" font-size="11.4" text-anchor="middle" >16</text>
<line x1="781.68" y1="271.7" x2="781.68" y2="275.09999999999997" stroke="#111" stroke-width="1.3"/>
<text transform="matrix(1,0,0,1.17,0,-48.076)" x="781.68" y="286.65" font-family="Liberation Serif" font-weight="bold" font-size="11.4" text-anchor="middle" >18</text>
<line x1="444.4" y1="271.70" x2="448.0" y2="271.70" stroke="#111" stroke-width="1.3"/>
<text transform="matrix(1,0,0,1.18,0,-48.888)" x="441.00" y="275.45" font-family="Liberation Serif" font-weight="bold" font-size="11.4" text-anchor="end" >0.50</text>
<line x1="444.4" y1="238.43" x2="448.0" y2="238.43" stroke="#111" stroke-width="1.3"/>
<text transform="matrix(1,0,0,1.18,0,-42.899)" x="441.00" y="242.18" font-family="Liberation Serif" font-weight="bold" font-size="11.4" text-anchor="end" >0.55</text>
<line x1="444.4" y1="205.16" x2="448.0" y2="205.16" stroke="#111" stroke-width="1.3"/>
<text transform="matrix(1,0,0,1.18,0,-36.911)" x="441.00" y="208.91" font-family="Liberation Serif" font-weight="bold" font-size="11.4" text-anchor="end" >0.60</text>
<line x1="444.4" y1="171.89" x2="448.0" y2="171.89" stroke="#111" stroke-width="1.3"/>
<text transform="matrix(1,0,0,1.18,0,-30.922)" x="441.00" y="175.64" font-family="Liberation Serif" font-weight="bold" font-size="11.4" text-anchor="end" >0.65</text>
<line x1="444.4" y1="138.62" x2="448.0" y2="138.62" stroke="#111" stroke-width="1.3"/>
<text transform="matrix(1,0,0,1.18,0,-24.934)" x="441.00" y="142.37" font-family="Liberation Serif" font-weight="bold" font-size="11.4" text-anchor="end" >0.70</text>
<line x1="444.4" y1="105.35" x2="448.0" y2="105.35" stroke="#111" stroke-width="1.3"/>
<text transform="matrix(1,0,0,1.18,0,-18.945)" x="441.00" y="109.10" font-family="Liberation Serif" font-weight="bold" font-size="11.4" text-anchor="end" >0.75</text>
<line x1="444.4" y1="72.08" x2="448.0" y2="72.08" stroke="#111" stroke-width="1.3"/>
<text transform="matrix(1,0,0,1.18,0,-12.956)" x="441.00" y="75.83" font-family="Liberation Serif" font-weight="bold" font-size="11.4" text-anchor="end" >0.80</text>
<line x1="444.4" y1="38.81" x2="448.0" y2="38.81" stroke="#111" stroke-width="1.3"/>
<text transform="matrix(1,0,0,1.18,0,-6.968)" x="441.00" y="42.56" font-family="Liberation Serif" font-weight="bold" font-size="11.4" text-anchor="end" >0.85</text>
<line x1="444.4" y1="5.54" x2="448.0" y2="5.54" stroke="#111" stroke-width="1.3"/>
<text transform="matrix(1,0,0,1.18,0,-0.979)" x="441.00" y="9.29" font-family="Liberation Serif" font-weight="bold" font-size="11.4" text-anchor="end" >0.90</text>
<text transform="matrix(1,0,0,1.1,0,-29.850)" x="623.4" y="303.2" font-family="Liberation Serif" font-weight="bold" font-size="14.7" text-anchor="middle">SNR(s)</text>
<text transform="translate(413.5,139.0) rotate(-90) scale(1,1.1)" font-family="Liberation Serif" font-weight="bold" font-size="15.1" text-anchor="middle">Classification Accuracy</text>
<text x="628.9" y="345.5" font-family="Liberation Serif" font-size="16" text-anchor="middle">(<tspan font-weight="bold">b</tspan>)</text>
</g>
</svg></div></body></html>
